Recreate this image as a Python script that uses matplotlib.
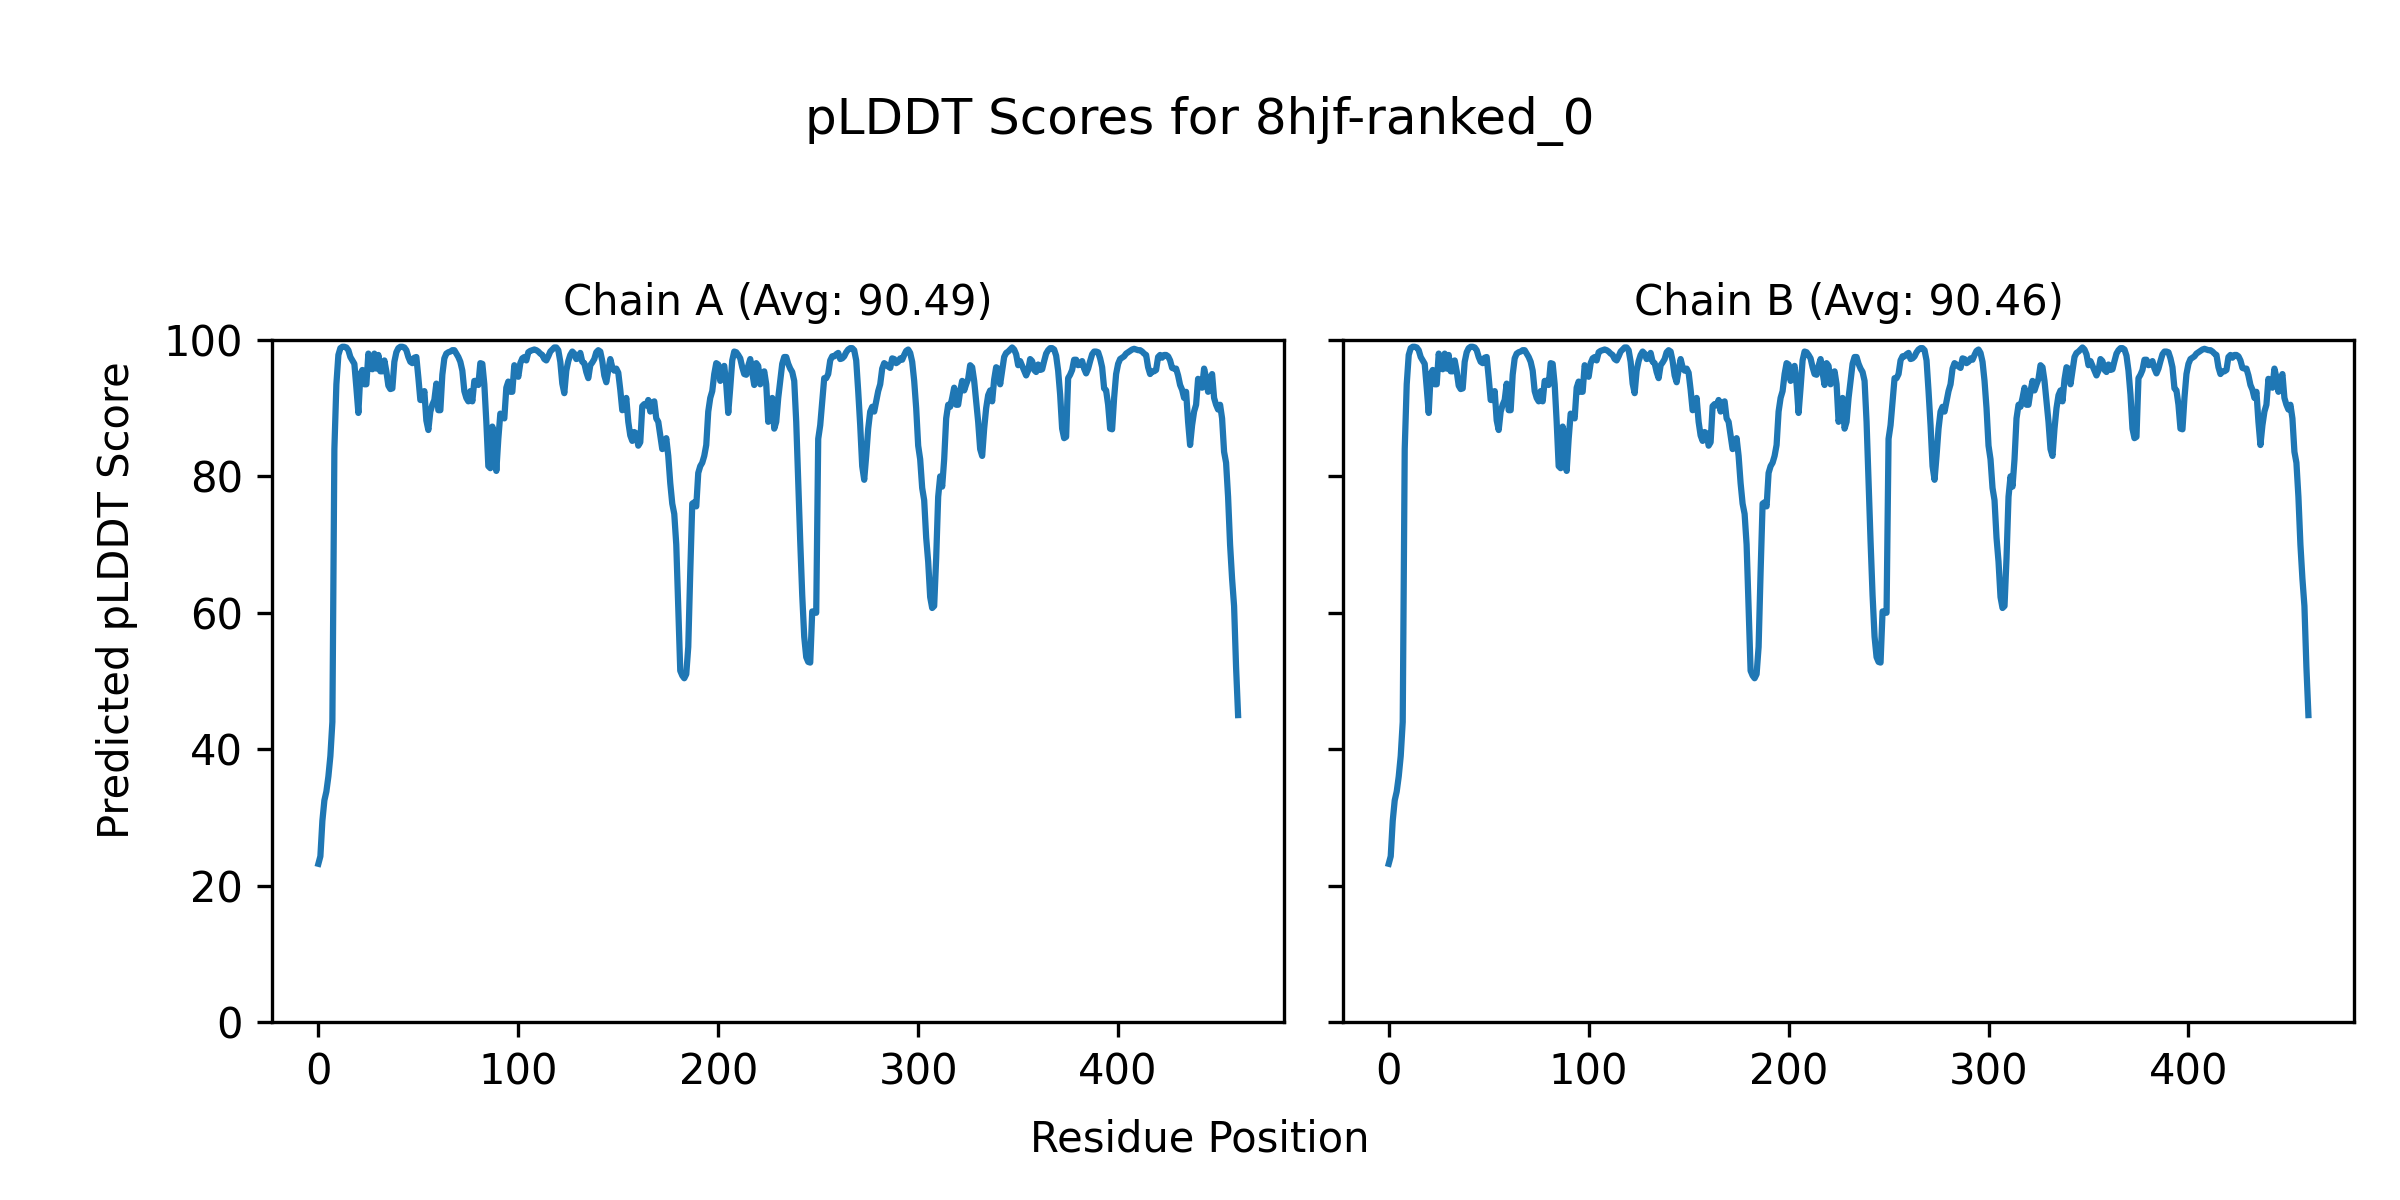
import numpy as np
import matplotlib
matplotlib.use("Agg")
import matplotlib.pyplot as plt

# pLDDT per residue (residues 0..460)
chain_a_scores = [
    23.2, 24.3, 29.5, 32.5, 33.8, 36.0, 39.0, 44.0, 84.0, 93.5,
    97.8, 98.8, 99.0, 99.0, 98.9, 98.5, 97.5, 97.0, 96.5, 93.0,
    89.3, 95.0, 95.6, 93.5, 93.5, 98.0, 96.5, 95.7, 98.0, 95.8,
    97.8, 95.4, 95.4, 97.0, 95.4, 93.3, 92.8, 92.9, 96.8, 98.2,
    98.8, 99.0, 99.0, 98.9, 98.5, 97.5, 96.8, 96.6, 97.4, 97.5,
    94.5, 91.2, 91.2, 92.5, 88.2, 86.8, 89.5, 90.5, 91.2, 93.6,
    89.7, 89.7, 94.9, 97.3, 98.0, 98.2, 98.3, 98.5, 98.5, 98.0,
    97.5, 96.8, 95.5, 92.5, 91.5, 91.0, 92.5, 91.0, 94.0, 94.0,
    93.4, 96.6, 96.5, 93.5, 88.0, 81.5, 81.2, 87.3, 86.0, 80.8,
    85.5, 89.2, 89.0, 88.5, 93.0, 93.9, 92.4, 92.4, 96.3, 95.5,
    94.6, 96.6, 97.3, 97.5, 97.0, 98.2, 98.4, 98.5, 98.6, 98.5,
    98.3, 98.0, 97.8, 97.2, 97.0, 97.6, 98.3, 98.6, 98.9, 98.9,
    98.5, 96.8, 93.6, 92.2, 95.5, 96.9, 97.8, 98.3, 98.0, 97.2,
    97.3, 98.1, 96.8, 96.6, 95.3, 94.4, 96.3, 96.7, 97.2, 98.2,
    98.5, 98.3, 96.9, 94.8, 93.8, 95.6, 97.2, 96.0, 95.5, 95.8,
    95.2, 92.7, 89.7, 90.0, 91.5, 88.0, 86.0, 85.2, 86.5, 86.3,
    84.5, 85.0, 90.3, 90.6, 90.4, 91.2, 89.5, 90.8, 91.0, 88.5,
    88.0, 86.0, 84.0, 84.2, 85.6, 83.0, 79.0, 76.0, 74.5, 70.0,
    61.0, 51.5, 50.8, 50.4, 51.0, 55.0, 66.0, 76.0, 76.2, 75.6,
    80.5, 81.5, 82.0, 83.0, 84.6, 89.5, 91.5, 92.5, 95.0, 96.6,
    96.4, 94.0, 95.5, 96.2, 93.5, 89.3, 93.0, 97.0, 98.3, 98.2,
    97.8, 97.3, 96.0, 95.0, 94.9, 96.2, 97.2, 95.2, 93.4, 96.6,
    96.2, 93.5, 94.5, 95.4, 93.5, 88.0, 89.5, 91.5, 87.0, 88.0,
    91.5, 94.0, 96.5, 97.5, 97.5, 96.5, 95.8, 95.3, 94.0, 88.0,
    79.0, 70.5, 62.6, 56.5, 53.5, 52.8, 52.7, 60.2, 60.2, 60.0,
    85.5, 87.5, 91.0, 94.4, 94.4, 95.0, 97.0, 97.6, 97.6, 97.9,
    98.1, 97.2, 97.3, 97.6, 98.2, 98.6, 98.8, 98.8, 98.5, 97.0,
    92.5, 87.5, 81.5, 79.5, 83.0, 87.0, 89.5, 90.2, 89.5, 91.0,
    92.5, 93.5, 95.8, 96.6, 96.4, 96.1, 95.9, 97.3, 97.2, 96.6,
    96.8, 97.3, 97.1, 97.8, 98.4, 98.6, 98.1, 96.8, 94.0, 90.0,
    84.5, 82.5, 78.3, 76.5, 71.0, 67.5, 62.3, 60.7, 61.0, 68.0,
    77.0, 80.0, 78.5, 82.5, 88.5, 90.5, 90.2, 91.5, 93.0, 90.5,
    90.5, 92.5, 94.0, 92.6, 93.5, 94.3, 96.3, 96.0, 94.0, 91.0,
    88.0, 84.0, 83.0, 87.0, 90.0, 91.9, 92.6, 91.0, 94.2, 96.0,
    95.8, 93.5, 95.5, 97.5, 98.1, 98.3, 98.6, 98.9, 98.6, 97.9,
    96.3, 96.9, 96.2, 95.5, 94.8, 95.5, 97.2, 96.9, 95.6, 95.3,
    96.4, 95.6, 95.7, 96.9, 98.0, 98.5, 98.8, 98.8, 98.6, 97.7,
    95.5, 92.0, 87.0, 85.6, 85.8, 94.4, 94.9, 95.6, 97.1, 97.1,
    96.3, 96.4, 96.9, 95.8, 95.1, 95.8, 96.9, 97.9, 98.3, 98.3,
    98.2, 97.3, 96.0, 92.9, 92.6, 90.5, 87.0, 86.9, 91.5, 95.0,
    96.5, 97.2, 97.4, 97.6, 98.0, 98.2, 98.4, 98.6, 98.7, 98.6,
    98.5, 98.5, 98.3, 98.0, 97.8, 96.0, 95.0, 95.4, 95.4, 95.6,
    97.5, 97.8, 97.4, 97.8, 97.8, 97.6, 97.0, 95.9, 95.8, 95.8,
    94.8, 93.4, 92.7, 91.5, 92.4, 88.0, 84.6, 87.5, 89.5, 90.5,
    94.3, 93.2, 93.0, 95.8, 94.5, 92.4, 94.3, 95.0, 91.5, 90.5,
    89.8, 90.5, 88.5, 83.6, 82.0, 77.0, 70.0, 65.0, 61.0, 52.0,
    45.0,
]

# chain B looks the same as chain A in the picture
chain_b_scores = list(chain_a_scores)

chain_names = ["A", "B"]
chain_avgs = ["90.49", "90.46"]
model_name = "8hjf-ranked_0"

fig, axes = plt.subplots(1, 2, figsize=(8, 4), dpi=300, sharey=True)
fig.subplots_adjust(left=0.1135, right=0.981, bottom=0.1483, top=0.7167, wspace=0.058)

for ax, name, avg, scores in zip(axes, chain_names, chain_avgs, [chain_a_scores, chain_b_scores]):
    ax.plot(np.arange(len(scores)), scores, color="#1f77b4", linewidth=1.5)
    ax.set_title(f"Chain {name} (Avg: {avg})", fontsize=10)
    ax.set_ylim(0, 100)

axes[0].set_yticks([0, 20, 40, 60, 80, 100])

fig.suptitle(f"pLDDT Scores for {model_name}", fontsize=12, y=0.92)
fig.text(0.5, 0.04, "Residue Position", ha="center")
fig.text(0.04, 0.5, "Predicted pLDDT Score", va="center", rotation="vertical")

fig.savefig("out.png", dpi=300)
